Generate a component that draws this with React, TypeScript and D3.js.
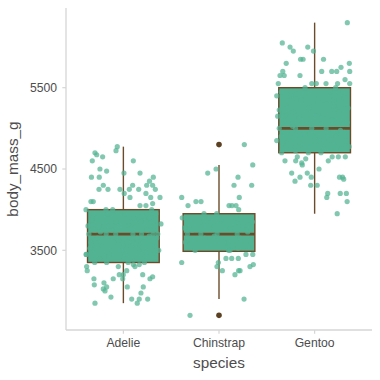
import React from "react";
import * as d3 from "d3";

// ---- data ----
const species = ["Adelie", "Chinstrap", "Gentoo"];

// box statistics per species: [lower whisker, Q1, median, Q3, upper whisker]
const boxLower = [2850, 2900, 3950];
const boxQ1 = [3350, 3487.5, 4700];
const boxMedian = [3700, 3700, 5000];
const boxQ3 = [4000, 3950, 5500];
const boxUpper = [4775, 4550, 6300];
const outlierSpecies = ["Chinstrap", "Chinstrap"];
const outlierMass = [4800, 2700];

// jittered observations: [body mass (g), horizontal jitter (category units)]
const adeliePoints: [number, number][] = [
  [4775, -0.064], [4725, -0.077], [4700, -0.297], [4675, -0.279], [4650, -0.217], [4600, -0.325],
  [4600, 0.104], [4500, -0.245], [4475, -0.175], [4400, -0.334], [4400, -0.252], [4450, 0.006],
  [4450, 0.174], [4400, 0.313], [4350, 0.273], [4300, -0.21], [4250, -0.255], [4250, -0.161],
  [4250, -0.036], [4250, 0.062], [4300, 0.097], [4250, 0.16], [4300, 0.244], [4300, 0.306],
  [4250, 0.334], [4200, 0.009], [4200, 0.236], [4150, 0.286], [4150, 0.383], [4150, 0.069],
  [4100, -0.315], [4100, -0.339], [4075, 0.306], [4050, 0.174], [4050, 0.236], [4000, -0.391],
  [4000, -0.112], [4000, -0.182], [4000, 0.296],
  [3700, -0.36], [3700, -0.18], [3700, -0.08], [3700, 0.1], [3700, 0.19], [3700, 0.31], [3700, 0.36],
  [3350, -0.3], [3350, 0.05], [3350, 0.22], [3400, -0.25], [3400, 0.12], [3400, 0.33], [3400, -0.05],
  [3450, -0.39], [3450, -0.15], [3450, 0.28], [3450, 0.02], [3500, -0.31], [3500, -0.02], [3500, 0.16],
  [3500, 0.37], [3550, -0.22], [3550, 0.08], [3550, 0.3], [3600, -0.34], [3600, -0.1], [3600, 0.21],
  [3600, 0.04], [3650, -0.27], [3650, 0.14], [3650, 0.35], [3750, -0.12], [3750, 0.25], [3750, -0.3],
  [3800, -0.2], [3800, 0.06], [3800, 0.32], [3800, -0.37], [3825, 0.393], [3850, -0.08], [3850, 0.18],
  [3900, -0.28], [3900, 0.11], [3900, 0.27], [3950, -0.16], [3950, 0.02], [3950, 0.34],
  [3425, -0.2], [3475, 0.24], [3525, -0.35], [3575, 0.13], [3625, -0.05], [3675, 0.27], [3725, -0.24],
  [3775, 0.09], [3875, -0.33], [3925, 0.2], [3450, -0.386],
  [3300, -0.384], [3250, -0.378], [3150, -0.308], [3100, -0.203], [3150, -0.106], [3200, -0.043],
  [3200, -0.001], [3150, -0.007], [3250, 0.035], [3300, -0.053], [3300, 0.121], [3325, 0.166],
  [3075, -0.304], [3050, -0.175], [3000, -0.192], [3025, -0.21], [3050, 0.041], [3200, 0.202],
  [3150, 0.278], [3175, 0.306], [3050, 0.208], [2975, 0.184], [2925, -0.13], [2900, 0.087],
  [2900, 0.166], [2900, 0.254], [2850, 0.145], [2850, -0.297], [3350, -0.175], [3325, 0.104],
];

const chinstrapPoints: [number, number][] = [
  [4800, 0.265], [4550, 0.353], [4450, -0.118], [4500, -0.031], [4400, 0.199], [4300, 0.157],
  [4300, 0.342], [4150, -0.39], [4150, 0.212], [4050, -0.324], [4100, -0.241], [4100, -0.188],
  [4050, 0.105], [4050, 0.136], [4050, 0.178], [4000, 0.206], [3950, -0.157], [3950, -0.024],
  [3900, -0.384],
  [3700, -0.33], [3700, -0.19], [3700, -0.02], [3700, 0.19], [3500, -0.25], [3500, 0.1], [3550, -0.1],
  [3550, 0.3], [3600, -0.35], [3600, 0.05], [3650, 0.22], [3650, -0.15], [3725, 0.3], [3750, -0.28],
  [3775, 0.12], [3800, -0.05], [3800, 0.25], [3850, -0.2], [3850, 0.35], [3875, 0.02], [3900, -0.1],
  [3900, 0.18], [3525, 0.2], [3575, -0.3], [3625, 0.33], [3675, -0.05], [3775, -0.36],
  [3350, -0.39], [3350, -0.007], [3300, -0.021], [3250, 0.035], [3400, 0.073], [3400, 0.133],
  [3400, 0.202], [3450, 0.282], [3450, 0.353], [3250, 0.22], [3250, 0.205], [3200, 0.167],
  [3300, 0.324], [3325, 0.359], [2900, 0.262], [2700, -0.303], [3500, 0.115],
];

const gentooPoints: [number, number][] = [
  [6300, 0.342], [6050, -0.338], [6000, -0.257], [5950, -0.223], [6000, -0.072], [5950, -0.012],
  [5850, -0.147], [5850, -0.121], [5850, 0.093], [5800, -0.297], [5800, 0.363], [5750, 0.276],
  [5700, -0.333], [5700, 0.074], [5700, 0.179], [5700, 0.231], [5700, 0.367], [5650, -0.362],
  [5650, -0.318], [5650, -0.153], [5600, 0.318], [5550, -0.38], [5550, -0.03], [5550, 0.018],
  [5550, 0.119], [5550, 0.24], [5550, 0.367], [5400, -0.396], [5150, -0.386], [4850, -0.396],
  [5000, -0.37], [5000, -0.2], [5000, -0.03], [5000, 0.12], [4750, -0.3], [4750, 0.1], [4750, 0.28],
  [4800, -0.15], [4800, 0.2], [4850, -0.25], [4850, 0.05], [4850, 0.33], [4900, -0.35], [4900, -0.05],
  [4900, 0.22], [4950, -0.18], [4950, 0.14], [4950, 0.31], [5050, -0.28], [5050, 0.07], [5050, 0.3],
  [5100, -0.12], [5100, 0.18], [5150, -0.33], [5150, 0.02], [5200, -0.22], [5200, 0.25], [5250, -0.06],
  [5250, 0.35], [5300, -0.3], [5300, 0.12], [5350, -0.14], [5350, 0.2], [5400, -0.25], [5400, 0.05],
  [5450, -0.35], [5450, 0.16], [5450, 0.3], [5500, -0.1], [5500, 0.22], [4725, -0.2], [4775, 0.36],
  [4825, -0.33], [4875, 0.15], [4925, -0.1], [4975, 0.27], [5025, -0.23], [5075, 0.34], [5125, -0.16],
  [5175, 0.09], [5225, -0.37], [5275, 0.2], [5325, -0.02], [5375, 0.31], [5425, -0.19],
  [4600, -0.31], [4600, -0.198], [4650, -0.181], [4575, -0.135], [4550, -0.129], [4625, -0.093],
  [4600, 0.143], [4650, 0.184], [4650, 0.248], [4650, 0.321], [4500, 0.046], [4450, -0.24],
  [4400, -0.153], [4350, -0.205], [4450, -0.077], [4400, -0.035], [4300, -0.041], [4300, 0.027],
  [4400, 0.26], [4400, 0.292], [4375, 0.304], [4200, 0.137], [4150, 0.127], [4200, 0.268],
  [4200, 0.332], [4100, 0.34], [3950, 0.236], [4700, -0.345], [4700, -0.066], [4700, 0.067],
];

const yTicks = [3500, 4500, 5500];
const yDomain = [2520, 6480];
const xTitle = "species";
const yTitle = "body_mass_g";

// ---- layout / style ----
const W = 380;
const H = 380;
const panel = { left: 66, right: 372, top: 8, bottom: 330 };
const FILL = "#52b393";
const BROWN = "#6b4c2a";
const OUTLIER = "#5b4022";
const TEXT = "#4d4d4d";
const AXIS = "#d6d6d6";
const FONT = "'Liberation Sans', Arial, Helvetica, sans-serif";

export default function App() {
  const x = d3.scalePoint<string>().domain(species).range([panel.left, panel.right]).padding(0.6);
  const y = d3.scaleLinear().domain(yDomain).range([panel.bottom, panel.top]);
  const step = x.step();
  const boxW = step * 0.75;

  const pointSets: { sp: string; pts: [number, number][] }[] = [
    { sp: "Adelie", pts: adeliePoints },
    { sp: "Chinstrap", pts: chinstrapPoints },
    { sp: "Gentoo", pts: gentooPoints },
  ];

  return (
    <svg
      width={W}
      height={H}
      style={{ position: "absolute", left: 0, top: 0, display: "block", background: "#fff" }}
      fontFamily={FONT}
    >
      {/* axes */}
      <line x1={panel.left} x2={panel.left} y1={panel.top} y2={panel.bottom} stroke={AXIS} strokeWidth={1.3} />
      <line x1={panel.left} x2={panel.right} y1={panel.bottom} y2={panel.bottom} stroke={AXIS} strokeWidth={1.3} />
      {yTicks.map((t) => (
        <g key={t}>
          <line x1={panel.left - 3.7} x2={panel.left} y1={y(t)} y2={y(t)} stroke={AXIS} strokeWidth={1.2} />
          <text x={panel.left - 9} y={y(t)} dy="0.36em" textAnchor="end" fontSize={12.2} fill={TEXT}>
            {t}
          </text>
        </g>
      ))}
      {species.map((s) => (
        <g key={s}>
          <line x1={x(s)!} x2={x(s)!} y1={panel.bottom} y2={panel.bottom + 3.7} stroke={AXIS} strokeWidth={1.2} />
          <text x={x(s)!} y={panel.bottom + 17} textAnchor="middle" fontSize={12.2} fill={TEXT}>
            {s}
          </text>
        </g>
      ))}
      <text x={(panel.left + panel.right) / 2} y={368} textAnchor="middle" fontSize={15.3} fill={TEXT}>
        {xTitle}
      </text>
      <text
        transform={`translate(18,${(panel.top + panel.bottom) / 2}) rotate(-90)`}
        textAnchor="middle"
        fontSize={15.3}
        fill={TEXT}
      >
        {yTitle}
      </text>

      {/* boxplots */}
      {species.map((s, i) => {
        const cx = x(s)!;
        return (
          <g key={s}>
            <line x1={cx} x2={cx} y1={y(boxQ3[i])} y2={y(boxUpper[i])} stroke={BROWN} strokeWidth={1.4} />
            <line x1={cx} x2={cx} y1={y(boxQ1[i])} y2={y(boxLower[i])} stroke={BROWN} strokeWidth={1.4} />
            <rect
              x={cx - boxW / 2}
              y={y(boxQ3[i])}
              width={boxW}
              height={y(boxQ1[i]) - y(boxQ3[i])}
              fill={FILL}
              stroke={BROWN}
              strokeWidth={1.4}
            />
            <line
              x1={cx - boxW / 2}
              x2={cx + boxW / 2}
              y1={y(boxMedian[i])}
              y2={y(boxMedian[i])}
              stroke={BROWN}
              strokeWidth={2.8}
            />
          </g>
        );
      })}
      {outlierMass.map((m, i) => (
        <circle key={"o" + i} cx={x(outlierSpecies[i])!} cy={y(m)} r={2.8} fill={OUTLIER} />
      ))}

      {/* jittered points */}
      {pointSets.map(({ sp, pts }) =>
        pts.map(([m, j], k) => (
          <circle
            key={sp + k}
            cx={x(sp)! + j * step}
            cy={y(m)}
            r={2.6}
            fill={FILL}
            fillOpacity={0.72}
          />
        ))
      )}
    </svg>
  );
}
